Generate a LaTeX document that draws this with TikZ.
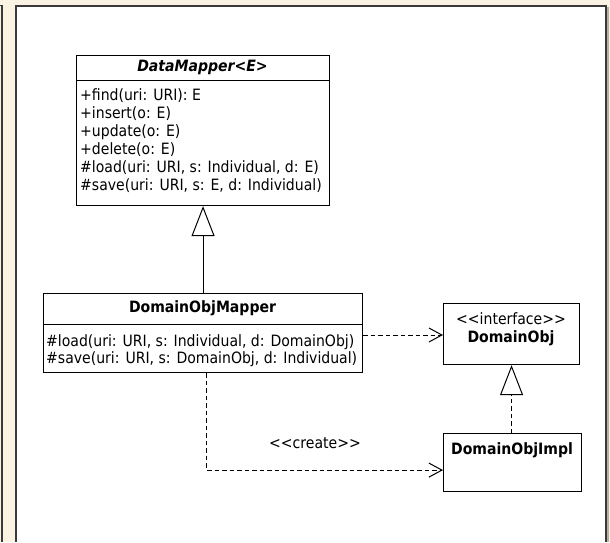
\documentclass[tikz,border=0pt]{standalone}
\usepackage{fontspec}
\setmainfont{DejaVu Sans Condensed}[Ligatures=TeXOff]
\usetikzlibrary{arrows.meta,calc}
\definecolor{paper}{HTML}{FAF2E2}
\definecolor{framedark}{HTML}{3A3A3A}
\definecolor{frameshade}{HTML}{B8B0A2}
\begin{document}
\begin{tikzpicture}[x=1pt,y=-1pt,
  umlfont/.style={font=\fontsize{15.6}{17}\selectfont},
  classbox/.style={draw=black, line width=1.1pt, fill=white, anchor=north west, inner sep=0pt},
  member/.style={umlfont, anchor=west, inner sep=0pt},
  title/.style={font=\fontsize{15.6}{17}\selectfont\bfseries, inner sep=0pt},
  divider/.style={line width=1pt},
  inherit/.style={line width=1pt, -{Triangle[open, length=30pt, width=23pt, line width=1pt]}},
  realize/.style={inherit, dash pattern=on 4.5pt off 3pt},
  depend/.style={line width=1pt, dash pattern=on 4.5pt off 3pt, -{Straight Barb[length=13pt, width=14pt, line width=1pt]}}
]
\useasboundingbox (0,0) rectangle (610,542);
% window background and diagram canvas
\fill[paper] (0,0) rectangle (610,542);
\draw[framedark, line width=1.6pt] (0,5.5) -- (2,5.5) -- (2,542);
\fill[white] (16,6) rectangle (606,542);
\draw[frameshade, line width=2pt] (608,7) -- (608,542);
\draw[framedark, line width=1.6pt] (16,542) -- (16,6) -- (606,6) -- (606,542);

% DataMapper<E>
\node[classbox, minimum width=253pt, minimum height=150pt] (dm) at (76,55) {};
\node[title, font=\fontsize{15.6}{17}\selectfont\bfseries\itshape] (dmtitle) at (202.5,67.5) {DataMapper<E>};
\draw[divider] (dm.west |- 0,80) -- (dm.east |- 0,80);
\node[member] (dm1) at (80,96)    {+find(uri: URI): E};
\node[member] (dm2) at (80,114)   {+insert(o: E)};
\node[member] (dm3) at (80,132)   {+update(o: E)};
\node[member] (dm4) at (80,150)   {+delete(o: E)};
\node[member] (dm5) at (80,168)   {\#load(uri: URI, s: Individual, d: E)};
\node[member] (dm6) at (80,186)   {\#save(uri: URI, s: E, d: Individual)};

% DomainObjMapper
\node[classbox, minimum width=319pt, minimum height=79pt] (dom) at (43,293) {};
\node[title] (domtitle) at (202.5,308.5) {DomainObjMapper};
\draw[divider] (dom.west |- 0,324) -- (dom.east |- 0,324);
\node[member] (dom1) at (46,342) {\#load(uri: URI, s: Individual, d: DomainObj)};
\node[member] (dom2) at (46,359) {\#save(uri: URI, s: DomainObj, d: Individual)};

% DomainObj interface
\node[classbox, minimum width=136pt, minimum height=61pt] (dobj) at (443,303) {};
\node[umlfont, inner sep=0pt] (dobjst) at (511,319) {<<interface>>};
\node[title] (dobjtitle) at (511,338) {DomainObj};

% DomainObjImpl
\node[classbox, minimum width=138pt, minimum height=58pt] (impl) at (443,433) {};
\node[title] (impltitle) at (512,450) {DomainObjImpl};

% relations
\draw[inherit] (dom.north) -- (dm.south);
\draw[realize] (impl.north -| dobj.south) -- (dobj.south);
\draw[depend] (dom.east |- 0,335) -- (dobj.west |- 0,335);
\coordinate (bend) at ($(dom.south)+(3.5,97)$);
\draw[depend] ($(dom.south)+(3.5,0)$) -- (bend) -- (impl.west |- bend);
\node[umlfont, inner sep=0pt] (createlbl) at (315,443) {<<create>>};
\end{tikzpicture}
\end{document}
